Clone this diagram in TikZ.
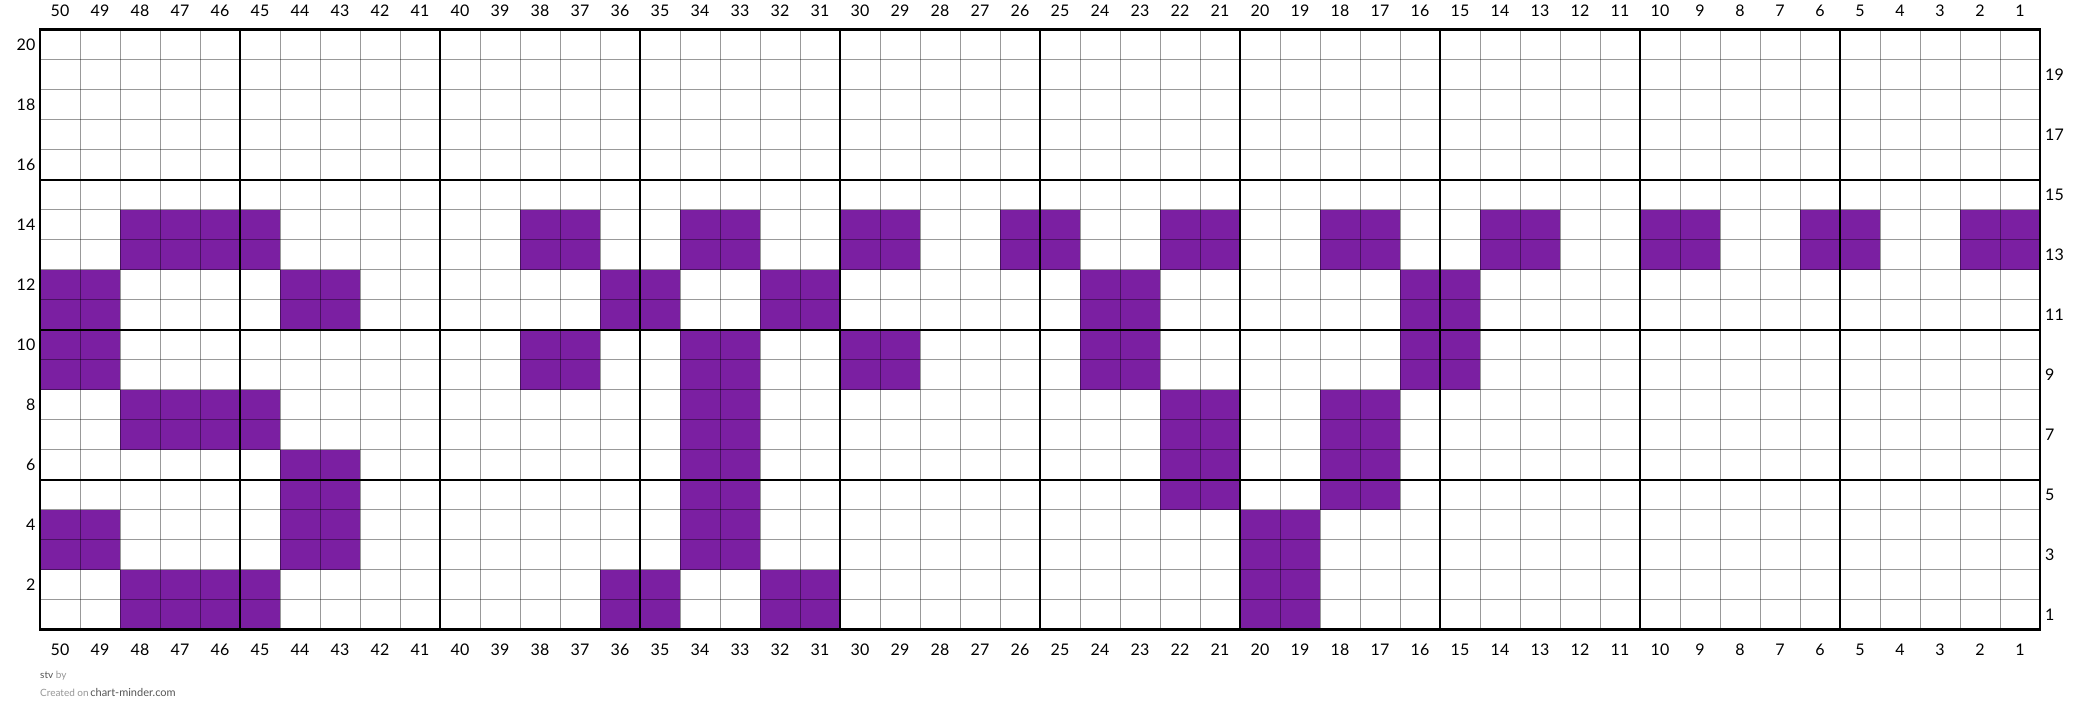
\documentclass[tikz,border=0pt]{standalone}
\usepackage{fontspec}
\setmainfont{Lato}
\definecolor{purp}{RGB}{123,31,162}
\definecolor{lightgray}{RGB}{150,150,150}
\definecolor{darkgray}{RGB}{85,85,85}
\begin{document}
\begin{tikzpicture}[x=1pt,y=-1pt,
  thinline/.style={draw=black,draw opacity=0.4,line width=1pt},
  boldline/.style={draw=black,line width=2pt},
  outerline/.style={draw=black,line width=2.6pt},
  cell/.style={fill=purp},
  numlab/.style={inner sep=0pt,font=\fontsize{16}{19}\selectfont}]
\useasboundingbox[fill=white] (0,0) rectangle (2080,723);
\newcommand{\blk}[4]{%
  \fill[cell] ({40+(50-#2)*40},{629.5-#4*30}) rectangle ({40+(51-#1)*40},{629.5-(#3-1)*30});}
% rows 13-14
\blk{45}{48}{13}{14}\blk{37}{38}{13}{14}\blk{33}{34}{13}{14}\blk{29}{30}{13}{14}
\blk{25}{26}{13}{14}\blk{21}{22}{13}{14}\blk{17}{18}{13}{14}\blk{13}{14}{13}{14}
\blk{9}{10}{13}{14}\blk{5}{6}{13}{14}\blk{1}{2}{13}{14}
% rows 11-12
\blk{49}{50}{11}{12}\blk{43}{44}{11}{12}\blk{35}{36}{11}{12}\blk{31}{32}{11}{12}
\blk{23}{24}{11}{12}\blk{15}{16}{11}{12}
% rows 9-10
\blk{49}{50}{9}{10}\blk{37}{38}{9}{10}\blk{33}{34}{9}{10}\blk{29}{30}{9}{10}
\blk{23}{24}{9}{10}\blk{15}{16}{9}{10}
% rows 7-8
\blk{45}{48}{7}{8}\blk{33}{34}{7}{8}\blk{21}{22}{7}{8}\blk{17}{18}{7}{8}
% rows 5-6
\blk{43}{44}{5}{6}\blk{33}{34}{5}{6}\blk{21}{22}{5}{6}\blk{17}{18}{5}{6}
% rows 3-4
\blk{49}{50}{3}{4}\blk{43}{44}{3}{4}\blk{33}{34}{3}{4}\blk{19}{20}{3}{4}
% rows 1-2
\blk{45}{48}{1}{2}\blk{35}{36}{1}{2}\blk{31}{32}{1}{2}\blk{19}{20}{1}{2}
% thin grid
\foreach \i in {1,...,49} \draw[thinline] ({40+\i*40},29.5) -- ({40+\i*40},629.5);
\foreach \j in {1,...,19} \draw[thinline] (40,{29.5+\j*30}) -- (2040,{29.5+\j*30});
% bold grid
\foreach \k in {1,...,9} \draw[boldline] ({40+\k*200},29.5) -- ({40+\k*200},629.5);
\foreach \k in {1,2,3} \draw[boldline] (40,{629.5-\k*150}) -- (2040,{629.5-\k*150});
\draw[outerline] (40,29.5) rectangle (2040,629.5);
% column labels
\foreach \c in {1,...,50} {
  \node[numlab] (top\c) at ({40+(50-\c)*40+20},11) {\c};
  \node[numlab] (bot\c) at ({40+(50-\c)*40+20},650) {\c};
}
% row labels
\foreach \r in {2,4,...,20}
  \node[numlab,anchor=east] (left\r) at (35.5,{629.5-\r*30+15}) {\r};
\foreach \r in {1,3,...,19}
  \node[numlab,anchor=west] (right\r) at (2045,{629.5-\r*30+15}) {\r};
% footer
\node[anchor=base west,inner sep=0pt,font=\fontsize{10}{12}\selectfont] (by) at (40,678)
  {\textcolor{darkgray}{stv} \textcolor{lightgray}{by}};
\node[anchor=base west,inner sep=0pt] (created) at (40,696)
  {\fontsize{10}{12}\selectfont\textcolor{lightgray}{Created on}\,\fontsize{11}{13}\selectfont\textcolor{darkgray}{chart-minder.com}};
\end{tikzpicture}
\end{document}
